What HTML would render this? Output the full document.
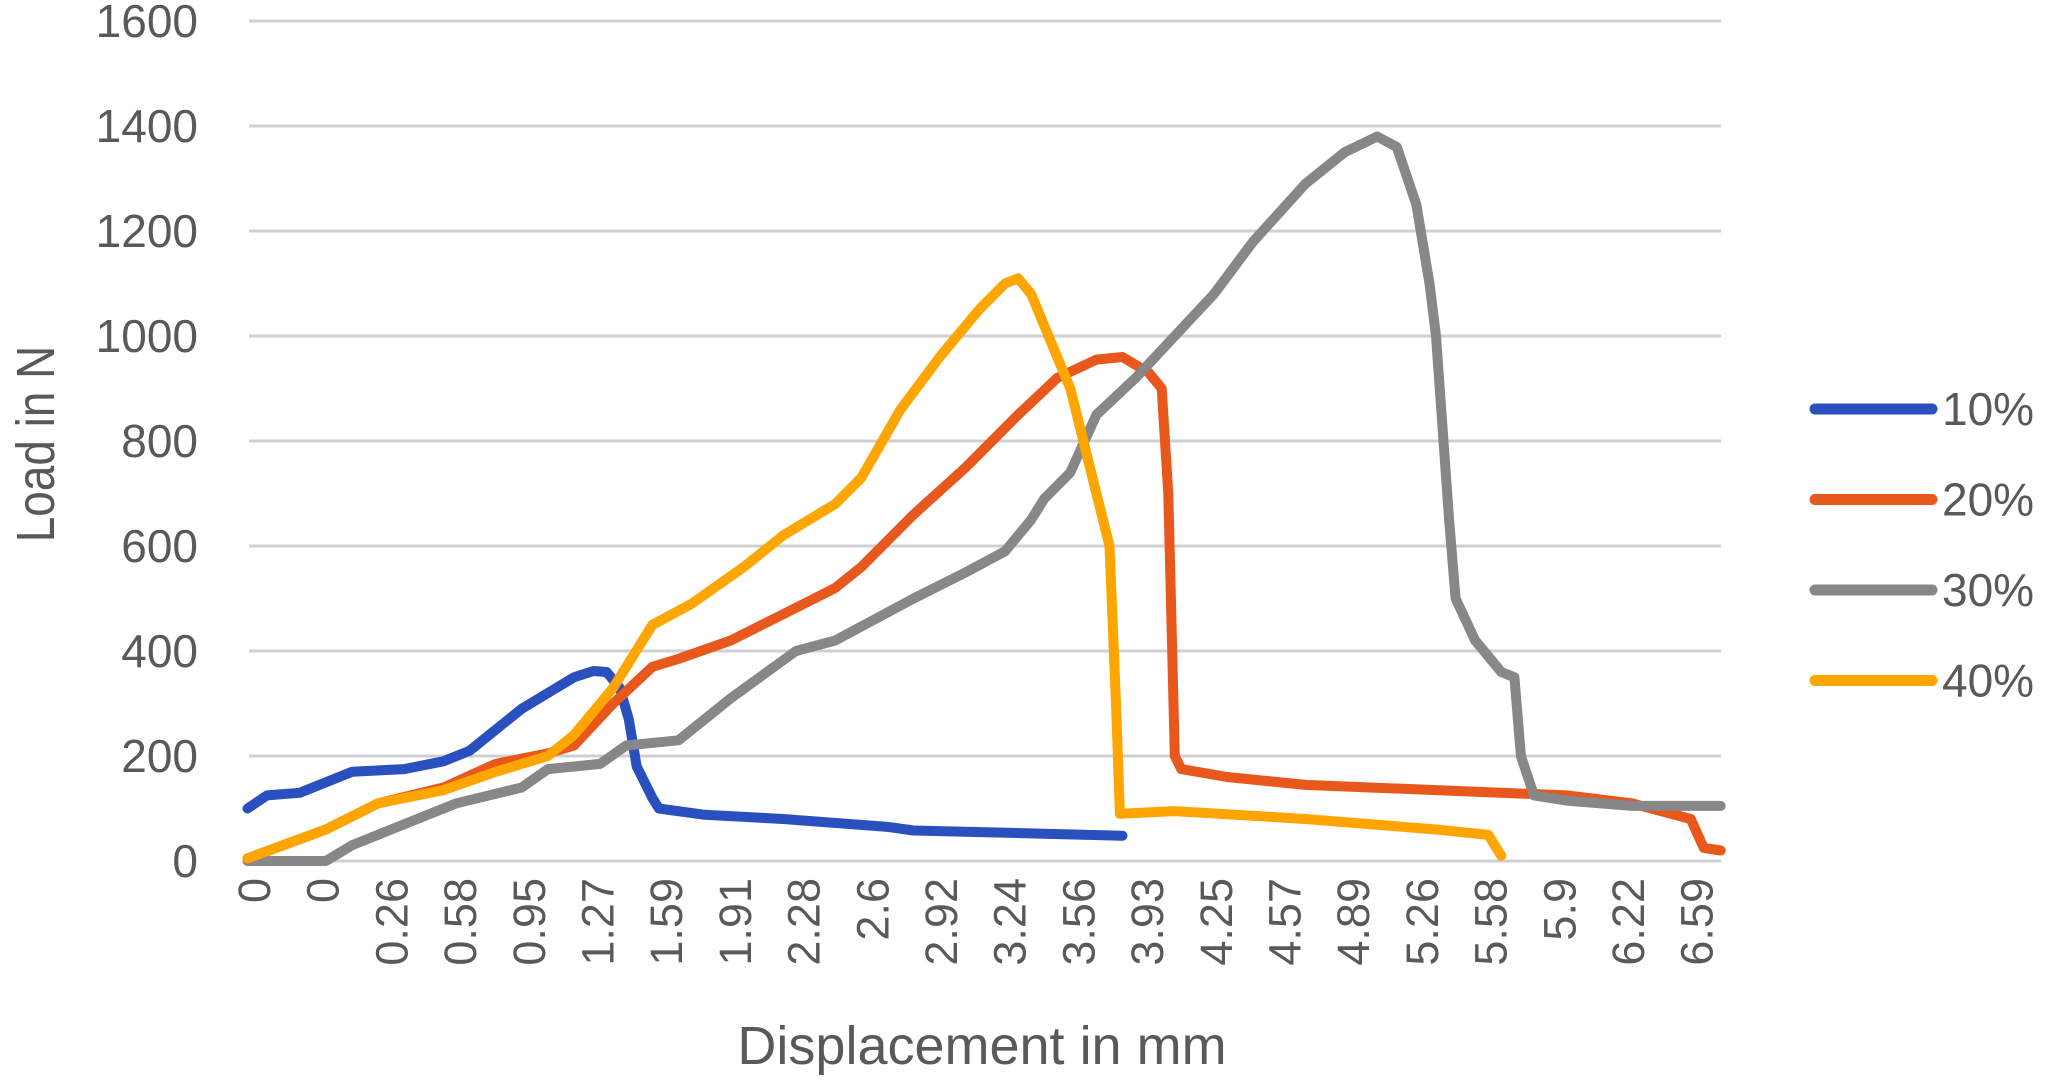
<!DOCTYPE html>
<html><head><meta charset="utf-8"><style>
html,body{margin:0;padding:0;background:#fff}
svg text{font-family:"Liberation Sans",sans-serif;fill:#595959}
</style></head><body>
<svg id="chart" width="2047" height="1081" xmlns="http://www.w3.org/2000/svg"></svg>
<script>
const yTicks=[0,200,400,600,800,1000,1200,1400,1600];
const xTickLabels=["0","0","0.26","0.58","0.95","1.27","1.59","1.91","2.28","2.6","2.92","3.24","3.56","3.93","4.25","4.57","4.89","5.26","5.58","5.9","6.22","6.59"];
const seriesNames=["10%","20%","30%","40%"];
const seriesColors=["#2a4fbf","#e8571c","#878787","#ffa500"];
// x values are in view units from the source chart (tick index = (x-195)/52.6)
const s10x=[190,205,230,270,310,340,360,380,400,420,440,455,465,475,482,488,500,505,540,600,680,700,800,860];
const s10y=[100,125,130,170,175,190,210,250,290,320,350,362,360,330,270,180,120,100,88,80,65,58,52,48];
const s20x=[190,250,290,340,380,420,440,470,500,520,560,600,640,660,700,740,780,810,840,860,880,890,895,900,905,940,1000,1100,1200,1250,1295,1305,1318];
const s20y=[5,60,110,140,185,205,220,300,370,385,420,470,520,560,660,750,850,920,955,960,930,900,700,200,175,160,145,135,125,110,80,25,20];
const s30x=[190,250,270,300,350,400,420,460,480,520,560,610,640,670,700,740,770,790,800,820,840,870,900,930,960,1000,1030,1055,1070,1085,1095,1100,1110,1115,1130,1150,1160,1165,1175,1200,1250,1318];
const s30y=[0,0,30,60,110,140,175,185,220,230,310,400,420,460,500,550,590,650,690,740,850,920,1000,1080,1180,1290,1350,1380,1360,1250,1100,1000,650,500,420,360,350,200,125,115,105,105];
const s40x=[190,250,290,340,380,420,440,470,500,530,570,600,640,660,690,720,750,770,780,790,820,840,850,855,858,900,1000,1100,1140,1150];
const s40y=[5,60,110,135,170,200,240,330,450,490,560,620,680,730,860,960,1050,1100,1110,1080,900,700,600,300,90,95,80,60,50,10];
const allX=[s10x,s20x,s30x,s40x], allY=[s10y,s20y,s30y,s40y];

const NS="http://www.w3.org/2000/svg";
const svg=document.getElementById('chart');
const PL=249,PR=1721,Y0=861,Y1600=21;
const yS=v=>Y0-(v/1600)*(Y0-Y1600);
const tickX=i=>254+68.7*i;
const xS=v=>tickX((v-195)/52.6);
function mk(t,a,txt){const e=document.createElementNS(NS,t);for(const k in a)e.setAttribute(k,a[k]);if(txt!==undefined)e.textContent=txt;svg.appendChild(e);return e;}

yTicks.forEach(v=>{
  const g=mk('line',{x1:PL,x2:PR,y1:yS(v),y2:yS(v),stroke:'#d0d0d0','stroke-width':3});
  
  
  const t=mk('text',{x:198,y:yS(v)+16,'text-anchor':'end','font-size':46},String(v));
  
  
});
xTickLabels.forEach((l,i)=>{
  const x=tickX(i);
  const t=mk('text',{x:0,y:0,'text-anchor':'end','font-size':45,transform:`translate(${x+16},878) rotate(-90)`},l);
  
  
});
const yt=mk('text',{x:0,y:0,'text-anchor':'middle','font-size':54,transform:'translate(54,444) rotate(-90) scale(0.85,1)'},'Load in N');


const xt=mk('text',{x:982,y:1064,'text-anchor':'middle','font-size':54},'Displacement in mm');



allX.forEach((xs,si)=>{
  const d=xs.map((x,i)=>(i?'L':'M')+xS(x).toFixed(1)+','+yS(allY[si][i]).toFixed(1)).join(' ');
  const p=mk('path',{d,fill:'none',stroke:seriesColors[si],'stroke-width':10,'stroke-linejoin':'round','stroke-linecap':'round'});
  
  
});
seriesNames.forEach((n,i)=>{
  const y=409+90.5*i;
  const l=mk('line',{x1:1815,x2:1932,y1:y,y2:y,stroke:seriesColors[i],'stroke-width':11,'stroke-linecap':'round'});
  
  
  const t=mk('text',{x:1942,y:y+16,'font-size':46},n);
  
  
});
</script>
</body></html>
